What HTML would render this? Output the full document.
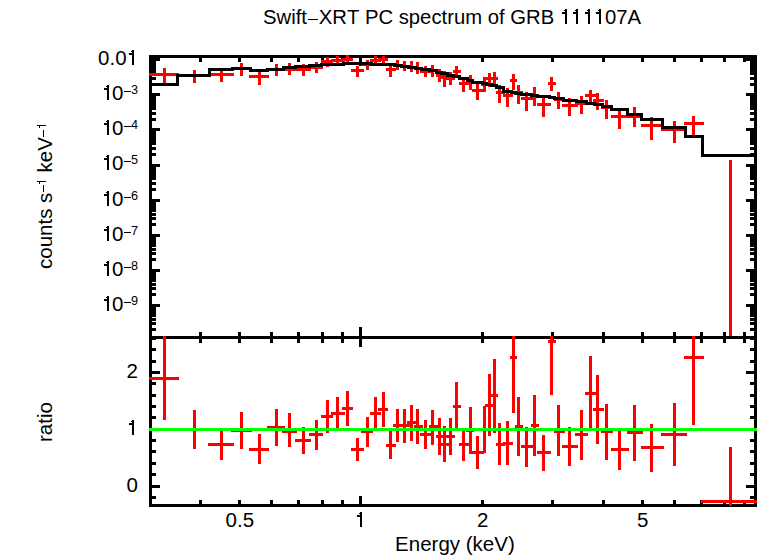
<!DOCTYPE html>
<html><head><meta charset="utf-8"><style>html,body{margin:0;padding:0;background:#fff;}svg{display:block;}</style></head>
<body><svg width="758" height="556" viewBox="0 0 758 556">
<rect width="758" height="556" fill="#fff"/>
<g shape-rendering="crispEdges">
<rect x="149" y="55" width="608" height="3" fill="#000"/>
<rect x="149" y="336" width="608" height="3" fill="#000"/>
<rect x="149" y="504" width="608" height="3" fill="#000"/>
<rect x="149" y="55" width="3" height="452" fill="#000"/>
<rect x="754" y="55" width="3" height="452" fill="#000"/>
<rect x="199" y="58" width="3" height="4" fill="#000"/>
<rect x="199" y="332" width="3" height="4" fill="#000"/>
<rect x="199" y="339" width="3" height="4" fill="#000"/>
<rect x="199" y="500" width="3" height="4" fill="#000"/>
<rect x="238" y="58" width="3" height="4" fill="#000"/>
<rect x="238" y="332" width="3" height="4" fill="#000"/>
<rect x="238" y="339" width="3" height="4" fill="#000"/>
<rect x="238" y="500" width="3" height="4" fill="#000"/>
<rect x="270" y="58" width="3" height="4" fill="#000"/>
<rect x="270" y="332" width="3" height="4" fill="#000"/>
<rect x="270" y="339" width="3" height="4" fill="#000"/>
<rect x="270" y="500" width="3" height="4" fill="#000"/>
<rect x="297" y="58" width="3" height="4" fill="#000"/>
<rect x="297" y="332" width="3" height="4" fill="#000"/>
<rect x="297" y="339" width="3" height="4" fill="#000"/>
<rect x="297" y="500" width="3" height="4" fill="#000"/>
<rect x="321" y="58" width="3" height="4" fill="#000"/>
<rect x="321" y="332" width="3" height="4" fill="#000"/>
<rect x="321" y="339" width="3" height="4" fill="#000"/>
<rect x="321" y="500" width="3" height="4" fill="#000"/>
<rect x="341" y="58" width="3" height="4" fill="#000"/>
<rect x="341" y="332" width="3" height="4" fill="#000"/>
<rect x="341" y="339" width="3" height="4" fill="#000"/>
<rect x="341" y="500" width="3" height="4" fill="#000"/>
<rect x="359" y="58" width="3" height="8" fill="#000"/>
<rect x="359" y="327" width="3" height="9" fill="#000"/>
<rect x="359" y="339" width="3" height="8" fill="#000"/>
<rect x="359" y="496" width="3" height="8" fill="#000"/>
<rect x="481" y="58" width="3" height="4" fill="#000"/>
<rect x="481" y="332" width="3" height="4" fill="#000"/>
<rect x="481" y="339" width="3" height="4" fill="#000"/>
<rect x="481" y="500" width="3" height="4" fill="#000"/>
<rect x="551" y="58" width="3" height="4" fill="#000"/>
<rect x="551" y="332" width="3" height="4" fill="#000"/>
<rect x="551" y="339" width="3" height="4" fill="#000"/>
<rect x="551" y="500" width="3" height="4" fill="#000"/>
<rect x="602" y="58" width="3" height="4" fill="#000"/>
<rect x="602" y="332" width="3" height="4" fill="#000"/>
<rect x="602" y="339" width="3" height="4" fill="#000"/>
<rect x="602" y="500" width="3" height="4" fill="#000"/>
<rect x="641" y="58" width="3" height="4" fill="#000"/>
<rect x="641" y="332" width="3" height="4" fill="#000"/>
<rect x="641" y="339" width="3" height="4" fill="#000"/>
<rect x="641" y="500" width="3" height="4" fill="#000"/>
<rect x="673" y="58" width="3" height="4" fill="#000"/>
<rect x="673" y="332" width="3" height="4" fill="#000"/>
<rect x="673" y="339" width="3" height="4" fill="#000"/>
<rect x="673" y="500" width="3" height="4" fill="#000"/>
<rect x="700" y="58" width="3" height="4" fill="#000"/>
<rect x="700" y="332" width="3" height="4" fill="#000"/>
<rect x="700" y="339" width="3" height="4" fill="#000"/>
<rect x="700" y="500" width="3" height="4" fill="#000"/>
<rect x="723" y="58" width="3" height="4" fill="#000"/>
<rect x="723" y="332" width="3" height="4" fill="#000"/>
<rect x="723" y="339" width="3" height="4" fill="#000"/>
<rect x="723" y="500" width="3" height="4" fill="#000"/>
<rect x="743" y="58" width="3" height="4" fill="#000"/>
<rect x="743" y="332" width="3" height="4" fill="#000"/>
<rect x="743" y="339" width="3" height="4" fill="#000"/>
<rect x="743" y="500" width="3" height="4" fill="#000"/>
<rect x="152" y="328" width="4" height="3" fill="#000"/>
<rect x="750" y="328" width="4" height="3" fill="#000"/>
<rect x="152" y="322" width="4" height="3" fill="#000"/>
<rect x="750" y="322" width="4" height="3" fill="#000"/>
<rect x="152" y="318" width="4" height="3" fill="#000"/>
<rect x="750" y="318" width="4" height="3" fill="#000"/>
<rect x="152" y="314" width="4" height="3" fill="#000"/>
<rect x="750" y="314" width="4" height="3" fill="#000"/>
<rect x="152" y="312" width="4" height="3" fill="#000"/>
<rect x="750" y="312" width="4" height="3" fill="#000"/>
<rect x="152" y="309" width="4" height="3" fill="#000"/>
<rect x="750" y="309" width="4" height="3" fill="#000"/>
<rect x="152" y="307" width="4" height="3" fill="#000"/>
<rect x="750" y="307" width="4" height="3" fill="#000"/>
<rect x="152" y="306" width="4" height="3" fill="#000"/>
<rect x="750" y="306" width="4" height="3" fill="#000"/>
<rect x="152" y="304" width="8" height="3" fill="#000"/>
<rect x="746" y="304" width="8" height="3" fill="#000"/>
<rect x="152" y="293" width="4" height="3" fill="#000"/>
<rect x="750" y="293" width="4" height="3" fill="#000"/>
<rect x="152" y="287" width="4" height="3" fill="#000"/>
<rect x="750" y="287" width="4" height="3" fill="#000"/>
<rect x="152" y="283" width="4" height="3" fill="#000"/>
<rect x="750" y="283" width="4" height="3" fill="#000"/>
<rect x="152" y="279" width="4" height="3" fill="#000"/>
<rect x="750" y="279" width="4" height="3" fill="#000"/>
<rect x="152" y="277" width="4" height="3" fill="#000"/>
<rect x="750" y="277" width="4" height="3" fill="#000"/>
<rect x="152" y="274" width="4" height="3" fill="#000"/>
<rect x="750" y="274" width="4" height="3" fill="#000"/>
<rect x="152" y="272" width="4" height="3" fill="#000"/>
<rect x="750" y="272" width="4" height="3" fill="#000"/>
<rect x="152" y="270" width="4" height="3" fill="#000"/>
<rect x="750" y="270" width="4" height="3" fill="#000"/>
<rect x="152" y="269" width="8" height="3" fill="#000"/>
<rect x="746" y="269" width="8" height="3" fill="#000"/>
<rect x="152" y="258" width="4" height="3" fill="#000"/>
<rect x="750" y="258" width="4" height="3" fill="#000"/>
<rect x="152" y="252" width="4" height="3" fill="#000"/>
<rect x="750" y="252" width="4" height="3" fill="#000"/>
<rect x="152" y="248" width="4" height="3" fill="#000"/>
<rect x="750" y="248" width="4" height="3" fill="#000"/>
<rect x="152" y="244" width="4" height="3" fill="#000"/>
<rect x="750" y="244" width="4" height="3" fill="#000"/>
<rect x="152" y="241" width="4" height="3" fill="#000"/>
<rect x="750" y="241" width="4" height="3" fill="#000"/>
<rect x="152" y="239" width="4" height="3" fill="#000"/>
<rect x="750" y="239" width="4" height="3" fill="#000"/>
<rect x="152" y="237" width="4" height="3" fill="#000"/>
<rect x="750" y="237" width="4" height="3" fill="#000"/>
<rect x="152" y="235" width="4" height="3" fill="#000"/>
<rect x="750" y="235" width="4" height="3" fill="#000"/>
<rect x="152" y="234" width="8" height="3" fill="#000"/>
<rect x="746" y="234" width="8" height="3" fill="#000"/>
<rect x="152" y="223" width="4" height="3" fill="#000"/>
<rect x="750" y="223" width="4" height="3" fill="#000"/>
<rect x="152" y="217" width="4" height="3" fill="#000"/>
<rect x="750" y="217" width="4" height="3" fill="#000"/>
<rect x="152" y="213" width="4" height="3" fill="#000"/>
<rect x="750" y="213" width="4" height="3" fill="#000"/>
<rect x="152" y="209" width="4" height="3" fill="#000"/>
<rect x="750" y="209" width="4" height="3" fill="#000"/>
<rect x="152" y="206" width="4" height="3" fill="#000"/>
<rect x="750" y="206" width="4" height="3" fill="#000"/>
<rect x="152" y="204" width="4" height="3" fill="#000"/>
<rect x="750" y="204" width="4" height="3" fill="#000"/>
<rect x="152" y="202" width="4" height="3" fill="#000"/>
<rect x="750" y="202" width="4" height="3" fill="#000"/>
<rect x="152" y="200" width="4" height="3" fill="#000"/>
<rect x="750" y="200" width="4" height="3" fill="#000"/>
<rect x="152" y="199" width="8" height="3" fill="#000"/>
<rect x="746" y="199" width="8" height="3" fill="#000"/>
<rect x="152" y="188" width="4" height="3" fill="#000"/>
<rect x="750" y="188" width="4" height="3" fill="#000"/>
<rect x="152" y="182" width="4" height="3" fill="#000"/>
<rect x="750" y="182" width="4" height="3" fill="#000"/>
<rect x="152" y="177" width="4" height="3" fill="#000"/>
<rect x="750" y="177" width="4" height="3" fill="#000"/>
<rect x="152" y="174" width="4" height="3" fill="#000"/>
<rect x="750" y="174" width="4" height="3" fill="#000"/>
<rect x="152" y="171" width="4" height="3" fill="#000"/>
<rect x="750" y="171" width="4" height="3" fill="#000"/>
<rect x="152" y="169" width="4" height="3" fill="#000"/>
<rect x="750" y="169" width="4" height="3" fill="#000"/>
<rect x="152" y="167" width="4" height="3" fill="#000"/>
<rect x="750" y="167" width="4" height="3" fill="#000"/>
<rect x="152" y="165" width="4" height="3" fill="#000"/>
<rect x="750" y="165" width="4" height="3" fill="#000"/>
<rect x="152" y="164" width="8" height="3" fill="#000"/>
<rect x="746" y="164" width="8" height="3" fill="#000"/>
<rect x="152" y="153" width="4" height="3" fill="#000"/>
<rect x="750" y="153" width="4" height="3" fill="#000"/>
<rect x="152" y="147" width="4" height="3" fill="#000"/>
<rect x="750" y="147" width="4" height="3" fill="#000"/>
<rect x="152" y="142" width="4" height="3" fill="#000"/>
<rect x="750" y="142" width="4" height="3" fill="#000"/>
<rect x="152" y="139" width="4" height="3" fill="#000"/>
<rect x="750" y="139" width="4" height="3" fill="#000"/>
<rect x="152" y="136" width="4" height="3" fill="#000"/>
<rect x="750" y="136" width="4" height="3" fill="#000"/>
<rect x="152" y="134" width="4" height="3" fill="#000"/>
<rect x="750" y="134" width="4" height="3" fill="#000"/>
<rect x="152" y="132" width="4" height="3" fill="#000"/>
<rect x="750" y="132" width="4" height="3" fill="#000"/>
<rect x="152" y="130" width="4" height="3" fill="#000"/>
<rect x="750" y="130" width="4" height="3" fill="#000"/>
<rect x="152" y="128" width="8" height="3" fill="#000"/>
<rect x="746" y="128" width="8" height="3" fill="#000"/>
<rect x="152" y="118" width="4" height="3" fill="#000"/>
<rect x="750" y="118" width="4" height="3" fill="#000"/>
<rect x="152" y="112" width="4" height="3" fill="#000"/>
<rect x="750" y="112" width="4" height="3" fill="#000"/>
<rect x="152" y="107" width="4" height="3" fill="#000"/>
<rect x="750" y="107" width="4" height="3" fill="#000"/>
<rect x="152" y="104" width="4" height="3" fill="#000"/>
<rect x="750" y="104" width="4" height="3" fill="#000"/>
<rect x="152" y="101" width="4" height="3" fill="#000"/>
<rect x="750" y="101" width="4" height="3" fill="#000"/>
<rect x="152" y="99" width="4" height="3" fill="#000"/>
<rect x="750" y="99" width="4" height="3" fill="#000"/>
<rect x="152" y="97" width="4" height="3" fill="#000"/>
<rect x="750" y="97" width="4" height="3" fill="#000"/>
<rect x="152" y="95" width="4" height="3" fill="#000"/>
<rect x="750" y="95" width="4" height="3" fill="#000"/>
<rect x="152" y="93" width="8" height="3" fill="#000"/>
<rect x="746" y="93" width="8" height="3" fill="#000"/>
<rect x="152" y="83" width="4" height="3" fill="#000"/>
<rect x="750" y="83" width="4" height="3" fill="#000"/>
<rect x="152" y="77" width="4" height="3" fill="#000"/>
<rect x="750" y="77" width="4" height="3" fill="#000"/>
<rect x="152" y="72" width="4" height="3" fill="#000"/>
<rect x="750" y="72" width="4" height="3" fill="#000"/>
<rect x="152" y="69" width="4" height="3" fill="#000"/>
<rect x="750" y="69" width="4" height="3" fill="#000"/>
<rect x="152" y="66" width="4" height="3" fill="#000"/>
<rect x="750" y="66" width="4" height="3" fill="#000"/>
<rect x="152" y="64" width="4" height="3" fill="#000"/>
<rect x="750" y="64" width="4" height="3" fill="#000"/>
<rect x="152" y="62" width="4" height="3" fill="#000"/>
<rect x="750" y="62" width="4" height="3" fill="#000"/>
<rect x="152" y="60" width="4" height="3" fill="#000"/>
<rect x="750" y="60" width="4" height="3" fill="#000"/>
<rect x="152" y="58" width="8" height="3" fill="#000"/>
<rect x="746" y="58" width="8" height="3" fill="#000"/>
<rect x="152" y="496" width="4" height="3" fill="#000"/>
<rect x="750" y="496" width="4" height="3" fill="#000"/>
<rect x="152" y="485" width="8" height="3" fill="#000"/>
<rect x="746" y="485" width="8" height="3" fill="#000"/>
<rect x="152" y="473" width="4" height="3" fill="#000"/>
<rect x="750" y="473" width="4" height="3" fill="#000"/>
<rect x="152" y="462" width="4" height="3" fill="#000"/>
<rect x="750" y="462" width="4" height="3" fill="#000"/>
<rect x="152" y="450" width="4" height="3" fill="#000"/>
<rect x="750" y="450" width="4" height="3" fill="#000"/>
<rect x="152" y="439" width="4" height="3" fill="#000"/>
<rect x="750" y="439" width="4" height="3" fill="#000"/>
<rect x="152" y="428" width="8" height="3" fill="#000"/>
<rect x="746" y="428" width="8" height="3" fill="#000"/>
<rect x="152" y="416" width="4" height="3" fill="#000"/>
<rect x="750" y="416" width="4" height="3" fill="#000"/>
<rect x="152" y="405" width="4" height="3" fill="#000"/>
<rect x="750" y="405" width="4" height="3" fill="#000"/>
<rect x="152" y="394" width="4" height="3" fill="#000"/>
<rect x="750" y="394" width="4" height="3" fill="#000"/>
<rect x="152" y="382" width="4" height="3" fill="#000"/>
<rect x="750" y="382" width="4" height="3" fill="#000"/>
<rect x="152" y="371" width="8" height="3" fill="#000"/>
<rect x="746" y="371" width="8" height="3" fill="#000"/>
<rect x="152" y="360" width="4" height="3" fill="#000"/>
<rect x="750" y="360" width="4" height="3" fill="#000"/>
<rect x="152" y="348" width="4" height="3" fill="#000"/>
<rect x="750" y="348" width="4" height="3" fill="#000"/>
<rect x="152" y="337" width="4" height="3" fill="#000"/>
<rect x="750" y="337" width="4" height="3" fill="#000"/>
<rect x="163" y="68" width="3" height="15" fill="#f00"/>
<rect x="149" y="73" width="30" height="3" fill="#f00"/>
<rect x="193" y="70" width="3" height="13" fill="#f00"/>
<rect x="176" y="74" width="35" height="3" fill="#f00"/>
<rect x="220" y="69" width="3" height="13" fill="#f00"/>
<rect x="208" y="73" width="26" height="3" fill="#f00"/>
<rect x="240" y="63" width="3" height="13" fill="#f00"/>
<rect x="231" y="67" width="21" height="3" fill="#f00"/>
<rect x="258" y="70" width="3" height="15" fill="#f00"/>
<rect x="249" y="75" width="20" height="3" fill="#f00"/>
<rect x="275" y="64" width="3" height="12" fill="#f00"/>
<rect x="267" y="68" width="18" height="3" fill="#f00"/>
<rect x="288" y="63" width="3" height="12" fill="#f00"/>
<rect x="282" y="68" width="15" height="3" fill="#f00"/>
<rect x="302" y="64" width="3" height="12" fill="#f00"/>
<rect x="295" y="68" width="16" height="3" fill="#f00"/>
<rect x="315" y="62" width="3" height="11" fill="#f00"/>
<rect x="309" y="66" width="14" height="3" fill="#f00"/>
<rect x="326" y="57" width="3" height="10" fill="#f00"/>
<rect x="321" y="60" width="12" height="3" fill="#f00"/>
<rect x="336" y="56" width="3" height="7" fill="#f00"/>
<rect x="331" y="59" width="14" height="3" fill="#f00"/>
<rect x="346" y="55" width="3" height="7" fill="#f00"/>
<rect x="342" y="58" width="11" height="3" fill="#f00"/>
<rect x="356" y="66" width="3" height="11" fill="#f00"/>
<rect x="351" y="69" width="13" height="3" fill="#f00"/>
<rect x="366" y="60" width="3" height="10" fill="#f00"/>
<rect x="361" y="63" width="12" height="3" fill="#f00"/>
<rect x="374" y="56" width="3" height="7" fill="#f00"/>
<rect x="370" y="59" width="11" height="3" fill="#f00"/>
<rect x="382" y="56" width="3" height="7" fill="#f00"/>
<rect x="378" y="58" width="10" height="3" fill="#f00"/>
<rect x="389" y="65" width="3" height="12" fill="#f00"/>
<rect x="386" y="68" width="10" height="3" fill="#f00"/>
<rect x="396" y="60" width="3" height="10" fill="#f00"/>
<rect x="393" y="64" width="10" height="3" fill="#f00"/>
<rect x="403" y="61" width="3" height="10" fill="#f00"/>
<rect x="400" y="65" width="10" height="3" fill="#f00"/>
<rect x="410" y="61" width="3" height="11" fill="#f00"/>
<rect x="407" y="66" width="10" height="3" fill="#f00"/>
<rect x="416" y="62" width="3" height="12" fill="#f00"/>
<rect x="414" y="67" width="9" height="3" fill="#f00"/>
<rect x="424" y="66" width="3" height="11" fill="#f00"/>
<rect x="420" y="70" width="11" height="3" fill="#f00"/>
<rect x="431" y="65" width="3" height="12" fill="#f00"/>
<rect x="429" y="69" width="9" height="3" fill="#f00"/>
<rect x="438" y="69" width="3" height="13" fill="#f00"/>
<rect x="436" y="74" width="7" height="3" fill="#f00"/>
<rect x="443" y="71" width="3" height="16" fill="#f00"/>
<rect x="441" y="76" width="8" height="3" fill="#f00"/>
<rect x="449" y="72" width="3" height="13" fill="#f00"/>
<rect x="446" y="77" width="9" height="3" fill="#f00"/>
<rect x="455" y="66" width="3" height="10" fill="#f00"/>
<rect x="453" y="70" width="8" height="3" fill="#f00"/>
<rect x="462" y="77" width="3" height="15" fill="#f00"/>
<rect x="459" y="82" width="10" height="3" fill="#f00"/>
<rect x="469" y="75" width="3" height="15" fill="#f00"/>
<rect x="466" y="81" width="8" height="3" fill="#f00"/>
<rect x="476" y="83" width="3" height="17" fill="#f00"/>
<rect x="472" y="89" width="12" height="3" fill="#f00"/>
<rect x="483" y="77" width="3" height="15" fill="#f00"/>
<rect x="481" y="83" width="7" height="3" fill="#f00"/>
<rect x="488" y="73" width="3" height="14" fill="#f00"/>
<rect x="485" y="77" width="8" height="3" fill="#f00"/>
<rect x="493" y="72" width="3" height="12" fill="#f00"/>
<rect x="490" y="77" width="8" height="3" fill="#f00"/>
<rect x="498" y="85" width="3" height="18" fill="#f00"/>
<rect x="496" y="91" width="9" height="3" fill="#f00"/>
<rect x="506" y="88" width="3" height="19" fill="#f00"/>
<rect x="503" y="94" width="10" height="3" fill="#f00"/>
<rect x="512" y="74" width="3" height="16" fill="#f00"/>
<rect x="510" y="79" width="7" height="3" fill="#f00"/>
<rect x="517" y="85" width="3" height="19" fill="#f00"/>
<rect x="515" y="91" width="8" height="3" fill="#f00"/>
<rect x="525" y="92" width="3" height="19" fill="#f00"/>
<rect x="521" y="97" width="12" height="3" fill="#f00"/>
<rect x="533" y="87" width="3" height="19" fill="#f00"/>
<rect x="531" y="94" width="8" height="3" fill="#f00"/>
<rect x="542" y="97" width="3" height="20" fill="#f00"/>
<rect x="537" y="103" width="14" height="3" fill="#f00"/>
<rect x="550" y="77" width="3" height="14" fill="#f00"/>
<rect x="548" y="82" width="8" height="3" fill="#f00"/>
<rect x="557" y="92" width="3" height="17" fill="#f00"/>
<rect x="554" y="98" width="11" height="3" fill="#f00"/>
<rect x="568" y="98" width="3" height="18" fill="#f00"/>
<rect x="562" y="104" width="16" height="3" fill="#f00"/>
<rect x="580" y="96" width="3" height="18" fill="#f00"/>
<rect x="575" y="102" width="13" height="3" fill="#f00"/>
<rect x="589" y="90" width="3" height="12" fill="#f00"/>
<rect x="585" y="94" width="11" height="3" fill="#f00"/>
<rect x="596" y="93" width="3" height="17" fill="#f00"/>
<rect x="593" y="99" width="11" height="3" fill="#f00"/>
<rect x="605" y="100" width="3" height="19" fill="#f00"/>
<rect x="601" y="106" width="12" height="3" fill="#f00"/>
<rect x="618" y="111" width="3" height="18" fill="#f00"/>
<rect x="611" y="115" width="18" height="3" fill="#f00"/>
<rect x="633" y="107" width="3" height="20" fill="#f00"/>
<rect x="627" y="115" width="16" height="3" fill="#f00"/>
<rect x="650" y="117" width="3" height="23" fill="#f00"/>
<rect x="641" y="124" width="23" height="3" fill="#f00"/>
<rect x="673" y="121" width="3" height="22" fill="#f00"/>
<rect x="661" y="128" width="26" height="3" fill="#f00"/>
<rect x="692" y="116" width="3" height="19" fill="#f00"/>
<rect x="684" y="122" width="20" height="3" fill="#f00"/>
<rect x="729" y="160" width="3" height="176" fill="#f00"/>
<rect x="163" y="336" width="3" height="84" fill="#f00"/>
<rect x="149" y="377" width="30" height="3" fill="#f00"/>
<rect x="193" y="410" width="3" height="39" fill="#f00"/>
<rect x="176" y="428" width="35" height="3" fill="#f00"/>
<rect x="220" y="429" width="3" height="31" fill="#f00"/>
<rect x="208" y="443" width="26" height="3" fill="#f00"/>
<rect x="240" y="412" width="3" height="37" fill="#f00"/>
<rect x="231" y="429" width="21" height="3" fill="#f00"/>
<rect x="258" y="434" width="3" height="30" fill="#f00"/>
<rect x="249" y="448" width="20" height="3" fill="#f00"/>
<rect x="275" y="409" width="3" height="37" fill="#f00"/>
<rect x="267" y="426" width="18" height="3" fill="#f00"/>
<rect x="288" y="413" width="3" height="34" fill="#f00"/>
<rect x="282" y="430" width="15" height="3" fill="#f00"/>
<rect x="302" y="427" width="3" height="27" fill="#f00"/>
<rect x="295" y="439" width="16" height="3" fill="#f00"/>
<rect x="315" y="420" width="3" height="30" fill="#f00"/>
<rect x="309" y="433" width="14" height="3" fill="#f00"/>
<rect x="326" y="400" width="3" height="33" fill="#f00"/>
<rect x="321" y="415" width="12" height="3" fill="#f00"/>
<rect x="336" y="397" width="3" height="31" fill="#f00"/>
<rect x="331" y="412" width="14" height="3" fill="#f00"/>
<rect x="346" y="391" width="3" height="35" fill="#f00"/>
<rect x="342" y="407" width="11" height="3" fill="#f00"/>
<rect x="356" y="438" width="3" height="23" fill="#f00"/>
<rect x="351" y="448" width="13" height="3" fill="#f00"/>
<rect x="366" y="417" width="3" height="30" fill="#f00"/>
<rect x="361" y="430" width="12" height="3" fill="#f00"/>
<rect x="374" y="397" width="3" height="31" fill="#f00"/>
<rect x="370" y="412" width="11" height="3" fill="#f00"/>
<rect x="382" y="392" width="3" height="35" fill="#f00"/>
<rect x="378" y="408" width="10" height="3" fill="#f00"/>
<rect x="389" y="431" width="3" height="28" fill="#f00"/>
<rect x="386" y="444" width="10" height="3" fill="#f00"/>
<rect x="396" y="409" width="3" height="33" fill="#f00"/>
<rect x="393" y="424" width="10" height="3" fill="#f00"/>
<rect x="403" y="409" width="3" height="34" fill="#f00"/>
<rect x="400" y="424" width="10" height="3" fill="#f00"/>
<rect x="410" y="405" width="3" height="36" fill="#f00"/>
<rect x="407" y="421" width="10" height="3" fill="#f00"/>
<rect x="416" y="409" width="3" height="35" fill="#f00"/>
<rect x="414" y="425" width="9" height="3" fill="#f00"/>
<rect x="424" y="420" width="3" height="29" fill="#f00"/>
<rect x="420" y="433" width="11" height="3" fill="#f00"/>
<rect x="431" y="410" width="3" height="35" fill="#f00"/>
<rect x="429" y="425" width="9" height="3" fill="#f00"/>
<rect x="438" y="418" width="3" height="37" fill="#f00"/>
<rect x="436" y="435" width="7" height="3" fill="#f00"/>
<rect x="443" y="426" width="3" height="36" fill="#f00"/>
<rect x="441" y="443" width="8" height="3" fill="#f00"/>
<rect x="449" y="418" width="3" height="37" fill="#f00"/>
<rect x="446" y="435" width="9" height="3" fill="#f00"/>
<rect x="455" y="382" width="3" height="47" fill="#f00"/>
<rect x="453" y="405" width="8" height="3" fill="#f00"/>
<rect x="462" y="431" width="3" height="30" fill="#f00"/>
<rect x="459" y="443" width="10" height="3" fill="#f00"/>
<rect x="469" y="407" width="3" height="47" fill="#f00"/>
<rect x="466" y="429" width="8" height="3" fill="#f00"/>
<rect x="476" y="436" width="3" height="33" fill="#f00"/>
<rect x="472" y="451" width="12" height="3" fill="#f00"/>
<rect x="483" y="406" width="3" height="47" fill="#f00"/>
<rect x="481" y="428" width="7" height="3" fill="#f00"/>
<rect x="488" y="374" width="3" height="62" fill="#f00"/>
<rect x="485" y="404" width="8" height="3" fill="#f00"/>
<rect x="493" y="359" width="3" height="74" fill="#f00"/>
<rect x="490" y="394" width="8" height="3" fill="#f00"/>
<rect x="498" y="423" width="3" height="42" fill="#f00"/>
<rect x="496" y="443" width="9" height="3" fill="#f00"/>
<rect x="506" y="421" width="3" height="44" fill="#f00"/>
<rect x="503" y="442" width="10" height="3" fill="#f00"/>
<rect x="512" y="336" width="3" height="77" fill="#f00"/>
<rect x="510" y="356" width="7" height="3" fill="#f00"/>
<rect x="517" y="397" width="3" height="59" fill="#f00"/>
<rect x="515" y="425" width="8" height="3" fill="#f00"/>
<rect x="525" y="427" width="3" height="40" fill="#f00"/>
<rect x="521" y="445" width="12" height="3" fill="#f00"/>
<rect x="533" y="395" width="3" height="61" fill="#f00"/>
<rect x="531" y="424" width="8" height="3" fill="#f00"/>
<rect x="542" y="435" width="3" height="36" fill="#f00"/>
<rect x="537" y="451" width="14" height="3" fill="#f00"/>
<rect x="550" y="336" width="3" height="59" fill="#f00"/>
<rect x="548" y="340" width="8" height="3" fill="#f00"/>
<rect x="557" y="405" width="3" height="51" fill="#f00"/>
<rect x="554" y="430" width="11" height="3" fill="#f00"/>
<rect x="568" y="427" width="3" height="39" fill="#f00"/>
<rect x="562" y="445" width="16" height="3" fill="#f00"/>
<rect x="580" y="410" width="3" height="50" fill="#f00"/>
<rect x="575" y="433" width="13" height="3" fill="#f00"/>
<rect x="589" y="356" width="3" height="75" fill="#f00"/>
<rect x="585" y="392" width="11" height="3" fill="#f00"/>
<rect x="596" y="375" width="3" height="69" fill="#f00"/>
<rect x="593" y="408" width="11" height="3" fill="#f00"/>
<rect x="605" y="404" width="3" height="56" fill="#f00"/>
<rect x="601" y="430" width="12" height="3" fill="#f00"/>
<rect x="618" y="429" width="3" height="41" fill="#f00"/>
<rect x="611" y="448" width="18" height="3" fill="#f00"/>
<rect x="633" y="405" width="3" height="56" fill="#f00"/>
<rect x="627" y="431" width="16" height="3" fill="#f00"/>
<rect x="650" y="424" width="3" height="48" fill="#f00"/>
<rect x="641" y="446" width="23" height="3" fill="#f00"/>
<rect x="673" y="403" width="3" height="63" fill="#f00"/>
<rect x="661" y="433" width="26" height="3" fill="#f00"/>
<rect x="692" y="336" width="3" height="89" fill="#f00"/>
<rect x="684" y="356" width="20" height="3" fill="#f00"/>
<rect x="729" y="447" width="3" height="59" fill="#f00"/>
<rect x="701" y="500" width="56" height="3" fill="#f00"/>
<rect x="150" y="83" width="29" height="3" fill="#000"/>
<rect x="176" y="74" width="3" height="12" fill="#000"/>
<rect x="176" y="74" width="35" height="3" fill="#000"/>
<rect x="208" y="68" width="3" height="9" fill="#000"/>
<rect x="208" y="68" width="26" height="3" fill="#000"/>
<rect x="231" y="67" width="3" height="4" fill="#000"/>
<rect x="231" y="67" width="21" height="3" fill="#000"/>
<rect x="249" y="67" width="3" height="5" fill="#000"/>
<rect x="249" y="69" width="20" height="3" fill="#000"/>
<rect x="266" y="68" width="3" height="4" fill="#000"/>
<rect x="266" y="68" width="19" height="3" fill="#000"/>
<rect x="282" y="66" width="3" height="5" fill="#000"/>
<rect x="282" y="66" width="15" height="3" fill="#000"/>
<rect x="294" y="65" width="3" height="4" fill="#000"/>
<rect x="294" y="65" width="17" height="3" fill="#000"/>
<rect x="308" y="64" width="3" height="4" fill="#000"/>
<rect x="308" y="64" width="15" height="3" fill="#000"/>
<rect x="320" y="63" width="3" height="4" fill="#000"/>
<rect x="320" y="63" width="13" height="3" fill="#000"/>
<rect x="330" y="63" width="3" height="3" fill="#000"/>
<rect x="330" y="63" width="15" height="3" fill="#000"/>
<rect x="342" y="62" width="3" height="4" fill="#000"/>
<rect x="342" y="62" width="11" height="3" fill="#000"/>
<rect x="350" y="62" width="3" height="3" fill="#000"/>
<rect x="350" y="62" width="14" height="3" fill="#000"/>
<rect x="361" y="62" width="3" height="3" fill="#000"/>
<rect x="361" y="62" width="12" height="3" fill="#000"/>
<rect x="370" y="62" width="3" height="4" fill="#000"/>
<rect x="370" y="63" width="11" height="3" fill="#000"/>
<rect x="378" y="63" width="3" height="3" fill="#000"/>
<rect x="378" y="63" width="10" height="3" fill="#000"/>
<rect x="385" y="63" width="3" height="3" fill="#000"/>
<rect x="385" y="63" width="11" height="3" fill="#000"/>
<rect x="393" y="63" width="3" height="4" fill="#000"/>
<rect x="393" y="64" width="10" height="3" fill="#000"/>
<rect x="400" y="64" width="3" height="4" fill="#000"/>
<rect x="400" y="65" width="10" height="3" fill="#000"/>
<rect x="407" y="65" width="3" height="4" fill="#000"/>
<rect x="407" y="66" width="10" height="3" fill="#000"/>
<rect x="414" y="66" width="3" height="4" fill="#000"/>
<rect x="414" y="67" width="9" height="3" fill="#000"/>
<rect x="420" y="67" width="3" height="4" fill="#000"/>
<rect x="420" y="68" width="11" height="3" fill="#000"/>
<rect x="428" y="68" width="3" height="4" fill="#000"/>
<rect x="428" y="69" width="10" height="3" fill="#000"/>
<rect x="435" y="69" width="3" height="5" fill="#000"/>
<rect x="435" y="71" width="8" height="3" fill="#000"/>
<rect x="440" y="71" width="3" height="4" fill="#000"/>
<rect x="440" y="72" width="9" height="3" fill="#000"/>
<rect x="446" y="72" width="3" height="5" fill="#000"/>
<rect x="446" y="74" width="9" height="3" fill="#000"/>
<rect x="452" y="74" width="3" height="4" fill="#000"/>
<rect x="452" y="75" width="9" height="3" fill="#000"/>
<rect x="458" y="75" width="3" height="5" fill="#000"/>
<rect x="458" y="77" width="11" height="3" fill="#000"/>
<rect x="466" y="77" width="3" height="5" fill="#000"/>
<rect x="466" y="79" width="8" height="3" fill="#000"/>
<rect x="471" y="79" width="3" height="5" fill="#000"/>
<rect x="471" y="81" width="13" height="3" fill="#000"/>
<rect x="481" y="81" width="3" height="4" fill="#000"/>
<rect x="481" y="82" width="7" height="3" fill="#000"/>
<rect x="485" y="82" width="3" height="4" fill="#000"/>
<rect x="485" y="83" width="8" height="3" fill="#000"/>
<rect x="490" y="83" width="3" height="4" fill="#000"/>
<rect x="490" y="84" width="8" height="3" fill="#000"/>
<rect x="495" y="84" width="3" height="5" fill="#000"/>
<rect x="495" y="86" width="10" height="3" fill="#000"/>
<rect x="502" y="86" width="3" height="7" fill="#000"/>
<rect x="502" y="90" width="11" height="3" fill="#000"/>
<rect x="510" y="90" width="3" height="4" fill="#000"/>
<rect x="510" y="91" width="7" height="3" fill="#000"/>
<rect x="514" y="91" width="3" height="4" fill="#000"/>
<rect x="514" y="92" width="9" height="3" fill="#000"/>
<rect x="520" y="92" width="3" height="4" fill="#000"/>
<rect x="520" y="93" width="13" height="3" fill="#000"/>
<rect x="530" y="93" width="3" height="4" fill="#000"/>
<rect x="530" y="94" width="9" height="3" fill="#000"/>
<rect x="536" y="94" width="3" height="4" fill="#000"/>
<rect x="536" y="95" width="15" height="3" fill="#000"/>
<rect x="548" y="95" width="3" height="4" fill="#000"/>
<rect x="548" y="96" width="8" height="3" fill="#000"/>
<rect x="553" y="96" width="3" height="4" fill="#000"/>
<rect x="553" y="97" width="12" height="3" fill="#000"/>
<rect x="562" y="97" width="3" height="5" fill="#000"/>
<rect x="562" y="99" width="16" height="3" fill="#000"/>
<rect x="575" y="99" width="3" height="4" fill="#000"/>
<rect x="575" y="100" width="13" height="3" fill="#000"/>
<rect x="585" y="100" width="3" height="5" fill="#000"/>
<rect x="585" y="102" width="11" height="3" fill="#000"/>
<rect x="593" y="102" width="3" height="4" fill="#000"/>
<rect x="593" y="103" width="11" height="3" fill="#000"/>
<rect x="601" y="103" width="3" height="5" fill="#000"/>
<rect x="601" y="105" width="12" height="3" fill="#000"/>
<rect x="610" y="105" width="3" height="6" fill="#000"/>
<rect x="610" y="108" width="19" height="3" fill="#000"/>
<rect x="626" y="108" width="3" height="8" fill="#000"/>
<rect x="626" y="113" width="17" height="3" fill="#000"/>
<rect x="640" y="113" width="3" height="8" fill="#000"/>
<rect x="640" y="118" width="24" height="3" fill="#000"/>
<rect x="661" y="118" width="3" height="11" fill="#000"/>
<rect x="661" y="126" width="26" height="3" fill="#000"/>
<rect x="684" y="126" width="3" height="12" fill="#000"/>
<rect x="684" y="135" width="20" height="3" fill="#000"/>
<rect x="701" y="135" width="3" height="22" fill="#000"/>
<rect x="701" y="154" width="55" height="3" fill="#000"/>
<rect x="149" y="428" width="608" height="3" fill="#0f0"/>
</g>
<g fill="#000">
<text x="262.98" y="23.60" font-size="20.27" style="font-family:&quot;Liberation Sans&quot;,sans-serif;font-kerning:none;" >S</text>
<text x="276.50" y="23.60" font-size="20.27" style="font-family:&quot;Liberation Sans&quot;,sans-serif;font-kerning:none;" >w</text>
<text x="291.14" y="23.60" font-size="20.27" style="font-family:&quot;Liberation Sans&quot;,sans-serif;font-kerning:none;" >i</text>
<text x="295.64" y="23.60" font-size="20.27" style="font-family:&quot;Liberation Sans&quot;,sans-serif;font-kerning:none;" >f</text>
<text x="301.27" y="23.60" font-size="20.27" style="font-family:&quot;Liberation Sans&quot;,sans-serif;font-kerning:none;" >t</text>
<rect x="308" y="19" width="10" height="1" shape-rendering="crispEdges"/>
<text x="318.74" y="23.60" font-size="20.27" style="font-family:&quot;Liberation Sans&quot;,sans-serif;font-kerning:none;" >X</text>
<text x="332.26" y="23.60" font-size="20.27" style="font-family:&quot;Liberation Sans&quot;,sans-serif;font-kerning:none;" >R</text>
<text x="346.90" y="23.60" font-size="20.27" style="font-family:&quot;Liberation Sans&quot;,sans-serif;font-kerning:none;" >T</text>
<text x="364.91" y="23.60" font-size="20.27" style="font-family:&quot;Liberation Sans&quot;,sans-serif;font-kerning:none;" >P</text>
<text x="378.43" y="23.60" font-size="20.27" style="font-family:&quot;Liberation Sans&quot;,sans-serif;font-kerning:none;" >C</text>
<text x="398.70" y="23.60" font-size="20.27" style="font-family:&quot;Liberation Sans&quot;,sans-serif;font-kerning:none;" >s</text>
<text x="408.84" y="23.60" font-size="20.27" style="font-family:&quot;Liberation Sans&quot;,sans-serif;font-kerning:none;" >p</text>
<text x="420.11" y="23.60" font-size="20.27" style="font-family:&quot;Liberation Sans&quot;,sans-serif;font-kerning:none;" >e</text>
<text x="431.38" y="23.60" font-size="20.27" style="font-family:&quot;Liberation Sans&quot;,sans-serif;font-kerning:none;" >c</text>
<text x="441.52" y="23.60" font-size="20.27" style="font-family:&quot;Liberation Sans&quot;,sans-serif;font-kerning:none;" >t</text>
<text x="447.15" y="23.60" font-size="20.27" style="font-family:&quot;Liberation Sans&quot;,sans-serif;font-kerning:none;" >r</text>
<text x="453.90" y="23.60" font-size="20.27" style="font-family:&quot;Liberation Sans&quot;,sans-serif;font-kerning:none;" >u</text>
<text x="465.17" y="23.60" font-size="20.27" style="font-family:&quot;Liberation Sans&quot;,sans-serif;font-kerning:none;" >m</text>
<text x="487.69" y="23.60" font-size="20.27" style="font-family:&quot;Liberation Sans&quot;,sans-serif;font-kerning:none;" >o</text>
<text x="498.96" y="23.60" font-size="20.27" style="font-family:&quot;Liberation Sans&quot;,sans-serif;font-kerning:none;" >f</text>
<text x="510.23" y="23.60" font-size="20.27" style="font-family:&quot;Liberation Sans&quot;,sans-serif;font-kerning:none;" >G</text>
<text x="525.99" y="23.60" font-size="20.27" style="font-family:&quot;Liberation Sans&quot;,sans-serif;font-kerning:none;" >R</text>
<text x="540.63" y="23.60" font-size="20.27" style="font-family:&quot;Liberation Sans&quot;,sans-serif;font-kerning:none;" >B</text>
<rect x="565" y="9" width="2" height="15" shape-rendering="crispEdges"/><rect x="562" y="12" width="3" height="2" shape-rendering="crispEdges"/><rect x="564" y="10" width="1" height="1" shape-rendering="crispEdges"/>
<rect x="576" y="9" width="2" height="15" shape-rendering="crispEdges"/><rect x="573" y="12" width="3" height="2" shape-rendering="crispEdges"/><rect x="575" y="10" width="1" height="1" shape-rendering="crispEdges"/>
<rect x="588" y="9" width="2" height="15" shape-rendering="crispEdges"/><rect x="585" y="12" width="3" height="2" shape-rendering="crispEdges"/><rect x="587" y="10" width="1" height="1" shape-rendering="crispEdges"/>
<rect x="599" y="9" width="2" height="15" shape-rendering="crispEdges"/><rect x="596" y="12" width="3" height="2" shape-rendering="crispEdges"/><rect x="598" y="10" width="1" height="1" shape-rendering="crispEdges"/>
<text x="604.88" y="23.60" font-size="20.27" style="font-family:&quot;Liberation Sans&quot;,sans-serif;font-kerning:none;" >0</text>
<text x="616.15" y="23.60" font-size="20.27" style="font-family:&quot;Liberation Sans&quot;,sans-serif;font-kerning:none;" >7</text>
<text x="627.42" y="23.60" font-size="20.27" style="font-family:&quot;Liberation Sans&quot;,sans-serif;font-kerning:none;" >A</text>
<text x="395.12" y="551.00" font-size="20.5" style="font-family:&quot;Liberation Sans&quot;,sans-serif;font-kerning:none;" >E</text>
<text x="408.79" y="551.00" font-size="20.5" style="font-family:&quot;Liberation Sans&quot;,sans-serif;font-kerning:none;" >n</text>
<text x="420.19" y="551.00" font-size="20.5" style="font-family:&quot;Liberation Sans&quot;,sans-serif;font-kerning:none;" >e</text>
<text x="431.59" y="551.00" font-size="20.5" style="font-family:&quot;Liberation Sans&quot;,sans-serif;font-kerning:none;" >r</text>
<text x="438.42" y="551.00" font-size="20.5" style="font-family:&quot;Liberation Sans&quot;,sans-serif;font-kerning:none;" >g</text>
<text x="449.82" y="551.00" font-size="20.5" style="font-family:&quot;Liberation Sans&quot;,sans-serif;font-kerning:none;" >y</text>
<text x="465.77" y="551.00" font-size="20.5" style="font-family:&quot;Liberation Sans&quot;,sans-serif;font-kerning:none;" >(</text>
<text x="472.59" y="551.00" font-size="20.5" style="font-family:&quot;Liberation Sans&quot;,sans-serif;font-kerning:none;" >k</text>
<text x="482.84" y="551.00" font-size="20.5" style="font-family:&quot;Liberation Sans&quot;,sans-serif;font-kerning:none;" >e</text>
<text x="494.25" y="551.00" font-size="20.5" style="font-family:&quot;Liberation Sans&quot;,sans-serif;font-kerning:none;" >V</text>
<text x="507.92" y="551.00" font-size="20.5" style="font-family:&quot;Liberation Sans&quot;,sans-serif;font-kerning:none;" >)</text>
<g transform="translate(52,269) rotate(-90)">
<text x="0.00" y="0.00" font-size="20.5" style="font-family:&quot;Liberation Sans&quot;,sans-serif;font-kerning:none;" >c</text>
<text x="10.25" y="0.00" font-size="20.5" style="font-family:&quot;Liberation Sans&quot;,sans-serif;font-kerning:none;" >o</text>
<text x="21.65" y="0.00" font-size="20.5" style="font-family:&quot;Liberation Sans&quot;,sans-serif;font-kerning:none;" >u</text>
<text x="33.05" y="0.00" font-size="20.5" style="font-family:&quot;Liberation Sans&quot;,sans-serif;font-kerning:none;" >n</text>
<text x="44.45" y="0.00" font-size="20.5" style="font-family:&quot;Liberation Sans&quot;,sans-serif;font-kerning:none;" >t</text>
<text x="50.15" y="0.00" font-size="20.5" style="font-family:&quot;Liberation Sans&quot;,sans-serif;font-kerning:none;" >s</text>
<text x="66.09" y="0.00" font-size="20.5" style="font-family:&quot;Liberation Sans&quot;,sans-serif;font-kerning:none;" >s</text>
<rect x="77" y="-9" width="7" height="1" shape-rendering="crispEdges"/>
<rect x="87" y="-15" width="1" height="9" shape-rendering="crispEdges"/><rect x="85" y="-13" width="2" height="1" shape-rendering="crispEdges"/>
<text x="96.52" y="0.00" font-size="20.5" style="font-family:&quot;Liberation Sans&quot;,sans-serif;font-kerning:none;" >k</text>
<text x="106.77" y="0.00" font-size="20.5" style="font-family:&quot;Liberation Sans&quot;,sans-serif;font-kerning:none;" >e</text>
<text x="118.17" y="0.00" font-size="20.5" style="font-family:&quot;Liberation Sans&quot;,sans-serif;font-kerning:none;" >V</text>
<rect x="132" y="-9" width="7" height="1" shape-rendering="crispEdges"/>
<rect x="143" y="-15" width="1" height="9" shape-rendering="crispEdges"/><rect x="141" y="-13" width="2" height="1" shape-rendering="crispEdges"/>
</g>
<g transform="translate(52,442) rotate(-90)">
<text x="0.00" y="0.00" font-size="20.5" style="font-family:&quot;Liberation Sans&quot;,sans-serif;font-kerning:none;" >r</text>
<text x="6.83" y="0.00" font-size="20.5" style="font-family:&quot;Liberation Sans&quot;,sans-serif;font-kerning:none;" >a</text>
<text x="18.23" y="0.00" font-size="20.5" style="font-family:&quot;Liberation Sans&quot;,sans-serif;font-kerning:none;" >t</text>
<text x="23.92" y="0.00" font-size="20.5" style="font-family:&quot;Liberation Sans&quot;,sans-serif;font-kerning:none;" >i</text>
<text x="28.48" y="0.00" font-size="20.5" style="font-family:&quot;Liberation Sans&quot;,sans-serif;font-kerning:none;" >o</text>
</g>
<text x="225.55" y="527.30" font-size="20.5" style="font-family:&quot;Liberation Sans&quot;,sans-serif;font-kerning:none;" >0</text>
<text x="236.95" y="527.30" font-size="20.5" style="font-family:&quot;Liberation Sans&quot;,sans-serif;font-kerning:none;" >.</text>
<text x="242.65" y="527.30" font-size="20.5" style="font-family:&quot;Liberation Sans&quot;,sans-serif;font-kerning:none;" >5</text>
<rect x="360" y="512" width="2" height="15" shape-rendering="crispEdges"/><rect x="357" y="515" width="3" height="2" shape-rendering="crispEdges"/><rect x="359" y="513" width="1" height="1" shape-rendering="crispEdges"/>
<text x="477.10" y="527.30" font-size="20.5" style="font-family:&quot;Liberation Sans&quot;,sans-serif;font-kerning:none;" >2</text>
<text x="637.10" y="527.30" font-size="20.5" style="font-family:&quot;Liberation Sans&quot;,sans-serif;font-kerning:none;" >5</text>
<text x="126.60" y="492.00" font-size="20.5" style="font-family:&quot;Liberation Sans&quot;,sans-serif;font-kerning:none;" >0</text>
<rect x="132" y="420" width="2" height="15" shape-rendering="crispEdges"/><rect x="129" y="423" width="3" height="2" shape-rendering="crispEdges"/><rect x="131" y="421" width="1" height="1" shape-rendering="crispEdges"/>
<text x="126.60" y="378.00" font-size="20.5" style="font-family:&quot;Liberation Sans&quot;,sans-serif;font-kerning:none;" >2</text>
<text x="98.10" y="65.00" font-size="20.5" style="font-family:&quot;Liberation Sans&quot;,sans-serif;font-kerning:none;" >0</text>
<text x="109.50" y="65.00" font-size="20.5" style="font-family:&quot;Liberation Sans&quot;,sans-serif;font-kerning:none;" >.</text>
<text x="115.20" y="65.00" font-size="20.5" style="font-family:&quot;Liberation Sans&quot;,sans-serif;font-kerning:none;" >0</text>
<rect x="132" y="50" width="2" height="15" shape-rendering="crispEdges"/><rect x="129" y="53" width="3" height="2" shape-rendering="crispEdges"/><rect x="131" y="51" width="1" height="1" shape-rendering="crispEdges"/>
<rect x="107" y="85" width="2" height="15" shape-rendering="crispEdges"/><rect x="104" y="88" width="3" height="2" shape-rendering="crispEdges"/><rect x="106" y="86" width="1" height="1" shape-rendering="crispEdges"/>
<text x="112.12" y="100.00" font-size="20.5" style="font-family:&quot;Liberation Sans&quot;,sans-serif;font-kerning:none;" >0</text>
<rect x="124" y="91" width="7" height="1" shape-rendering="crispEdges"/>
<text x="130.94" y="94.00" font-size="12.7" style="font-family:&quot;Liberation Sans&quot;,sans-serif;font-kerning:none;" >3</text>
<rect x="107" y="120" width="2" height="15" shape-rendering="crispEdges"/><rect x="104" y="123" width="3" height="2" shape-rendering="crispEdges"/><rect x="106" y="121" width="1" height="1" shape-rendering="crispEdges"/>
<text x="112.12" y="135.00" font-size="20.5" style="font-family:&quot;Liberation Sans&quot;,sans-serif;font-kerning:none;" >0</text>
<rect x="124" y="126" width="7" height="1" shape-rendering="crispEdges"/>
<text x="130.94" y="129.00" font-size="12.7" style="font-family:&quot;Liberation Sans&quot;,sans-serif;font-kerning:none;" >4</text>
<rect x="107" y="155" width="2" height="15" shape-rendering="crispEdges"/><rect x="104" y="158" width="3" height="2" shape-rendering="crispEdges"/><rect x="106" y="156" width="1" height="1" shape-rendering="crispEdges"/>
<text x="112.12" y="170.00" font-size="20.5" style="font-family:&quot;Liberation Sans&quot;,sans-serif;font-kerning:none;" >0</text>
<rect x="124" y="161" width="7" height="1" shape-rendering="crispEdges"/>
<text x="130.94" y="164.00" font-size="12.7" style="font-family:&quot;Liberation Sans&quot;,sans-serif;font-kerning:none;" >5</text>
<rect x="107" y="191" width="2" height="15" shape-rendering="crispEdges"/><rect x="104" y="194" width="3" height="2" shape-rendering="crispEdges"/><rect x="106" y="192" width="1" height="1" shape-rendering="crispEdges"/>
<text x="112.12" y="206.00" font-size="20.5" style="font-family:&quot;Liberation Sans&quot;,sans-serif;font-kerning:none;" >0</text>
<rect x="124" y="197" width="7" height="1" shape-rendering="crispEdges"/>
<text x="130.94" y="200.00" font-size="12.7" style="font-family:&quot;Liberation Sans&quot;,sans-serif;font-kerning:none;" >6</text>
<rect x="107" y="226" width="2" height="15" shape-rendering="crispEdges"/><rect x="104" y="229" width="3" height="2" shape-rendering="crispEdges"/><rect x="106" y="227" width="1" height="1" shape-rendering="crispEdges"/>
<text x="112.12" y="241.00" font-size="20.5" style="font-family:&quot;Liberation Sans&quot;,sans-serif;font-kerning:none;" >0</text>
<rect x="124" y="232" width="7" height="1" shape-rendering="crispEdges"/>
<text x="130.94" y="235.00" font-size="12.7" style="font-family:&quot;Liberation Sans&quot;,sans-serif;font-kerning:none;" >7</text>
<rect x="107" y="261" width="2" height="15" shape-rendering="crispEdges"/><rect x="104" y="264" width="3" height="2" shape-rendering="crispEdges"/><rect x="106" y="262" width="1" height="1" shape-rendering="crispEdges"/>
<text x="112.12" y="276.00" font-size="20.5" style="font-family:&quot;Liberation Sans&quot;,sans-serif;font-kerning:none;" >0</text>
<rect x="124" y="267" width="7" height="1" shape-rendering="crispEdges"/>
<text x="130.94" y="270.00" font-size="12.7" style="font-family:&quot;Liberation Sans&quot;,sans-serif;font-kerning:none;" >8</text>
<rect x="107" y="296" width="2" height="15" shape-rendering="crispEdges"/><rect x="104" y="299" width="3" height="2" shape-rendering="crispEdges"/><rect x="106" y="297" width="1" height="1" shape-rendering="crispEdges"/>
<text x="112.12" y="311.00" font-size="20.5" style="font-family:&quot;Liberation Sans&quot;,sans-serif;font-kerning:none;" >0</text>
<rect x="124" y="302" width="7" height="1" shape-rendering="crispEdges"/>
<text x="130.94" y="305.00" font-size="12.7" style="font-family:&quot;Liberation Sans&quot;,sans-serif;font-kerning:none;" >9</text>

</g>
</svg></body></html>
